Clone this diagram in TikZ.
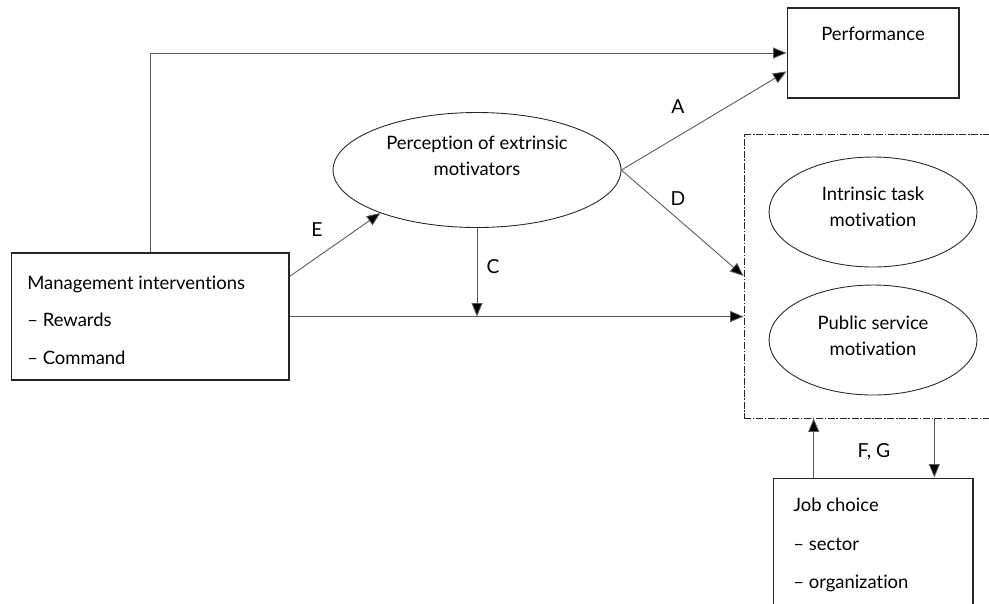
\documentclass[tikz,border=0pt]{standalone}
\usepackage{fontspec}
\setmainfont{Lato}[Ligatures={NoCommon,NoRare}]
\usetikzlibrary{arrows.meta, positioning, calc, shapes.geometric}

\begin{document}
\begin{tikzpicture}[x=0.02cm, y=-0.02cm,
  font=\fontsize{10.5}{14.5}\selectfont,
  box/.style={draw=black!85, line width=0.6pt, rectangle, inner sep=0pt},
  oval/.style={draw=black!85, ellipse, line width=0.5pt, inner sep=0pt},
  grpbox/.style={draw=black!85, line width=0.5pt, dash pattern=on 4pt off 1pt on 0.8pt off 1pt, inner sep=0pt},
  link/.style={draw=black!65, line width=0.5pt, -{Triangle[length=2.7mm, width=2.2mm, fill=black]}},
  txt/.style={inner sep=0pt, align=center},
  lbl/.style={inner sep=0pt, font=\fontsize{11}{13}\selectfont}]
\useasboundingbox (0,0) rectangle (989,603);

% boxes and ovals
\node[box, minimum width=3.44cm, minimum height=1.8cm] (perf) at (873,53) {};
\node[txt] (perftxt) at (873,34) {Performance};
\node[box, minimum width=5.56cm, minimum height=2.54cm] (mgmt) at (150,316.5) {};
\node[txt, anchor=west, align=left, font=\fontsize{10.5}{21.3}\selectfont] (mgmttxt) at (27,320)
  {Management interventions\\-- Rewards\\-- Command};
\node[oval, minimum width=5.76cm, minimum height=2.3cm] (percep) at (477,170) {};
\node[txt] (perceptxt) at (477,156) {Perception of extrinsic\\motivators};
\node[grpbox, minimum width=5.12cm, minimum height=5.68cm] (grp) at (872,276) {};
\node[oval, minimum width=4.16cm, minimum height=2.2cm] (intr) at (873,212) {};
\node[txt] (intrtxt) at (873,207) {Intrinsic task\\motivation};
\node[oval, minimum width=4.16cm, minimum height=2.2cm] (psm) at (873,340) {};
\node[txt] (psmtxt) at (873,336) {Public service\\motivation};
\node[box, minimum width=4cm, minimum height=2.74cm] (jobs) at (873,546.5) {};
\node[txt, anchor=west, align=left, font=\fontsize{10.5}{21.9}\selectfont] (jobstxt) at (793,545)
  {Job choice\\-- sector\\-- organization};

% connectors
\draw[link] (mgmt.north) |- (perf.west);
\draw[link] (percep.east) -- (perf.192);
\draw[link] (percep.east) -- (grp.west);
\draw[link] (mgmt.16) -- (percep.204);
\draw[link] (mgmt.east) -- (mgmt.east -| grp.west);
\draw[link] (percep.south) -- (percep.south |- mgmt.east);
\coordinate (jcup) at ($(jobs.north west)!0.205!(jobs.north east)$);
\coordinate (jcdn) at ($(jobs.north west)!0.805!(jobs.north east)$);
\draw[link] (jcup) -- (jcup |- grp.south);
\draw[link] (jcdn |- grp.south) -- (jcdn);

% path labels
\node[lbl] (la) at (678,107) {A};
\node[lbl] (ld) at (678,199) {D};
\node[lbl] (le) at (317,230) {E};
\node[lbl] (lc) at (493,267) {C};
\node[lbl] (lfg) at (874,452) {F, G};
\end{tikzpicture}
\end{document}
